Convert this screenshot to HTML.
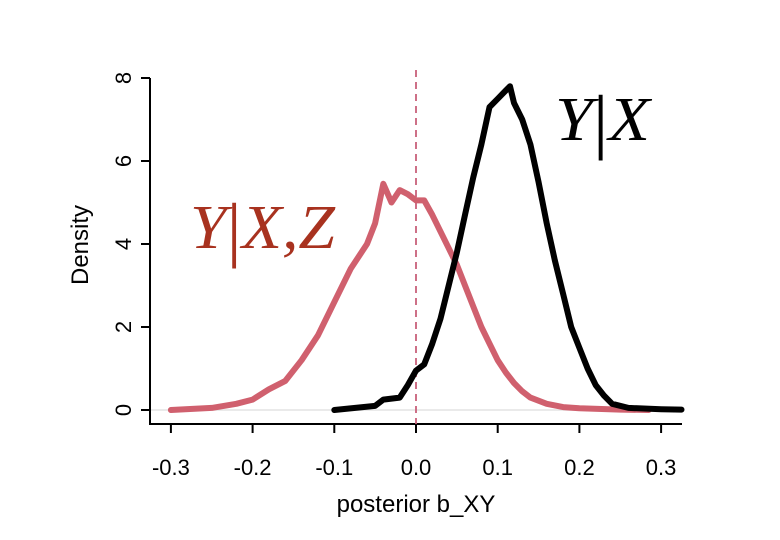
<!DOCTYPE html>
<html><head><meta charset="utf-8"><style>
html,body{margin:0;padding:0;background:#fff;width:780px;height:540px;overflow:hidden}
</style></head><body>
<svg id="chart" width="780" height="540" viewBox="0 0 780 540" xmlns="http://www.w3.org/2000/svg"></svg>
<script>
const xTicks=[-0.3,-0.2,-0.1,0.0,0.1,0.2,0.3];
const xTickLabels=["-0.3","-0.2","-0.1","0.0","0.1","0.2","0.3"];
const yTicks=[0,2,4,6,8];
const yxX=[-0.1,-0.05,-0.04,-0.02,-0.01,0.0,0.01,0.02,0.03,0.04,0.05,0.06,0.07,0.08,0.09,0.1,0.11,0.115,0.12,0.13,0.14,0.15,0.16,0.17,0.18,0.19,0.2,0.21,0.22,0.23,0.24,0.26,0.3,0.325];
const yxD=[0,0.1,0.25,0.3,0.6,0.95,1.1,1.6,2.2,3.0,3.8,4.7,5.6,6.4,7.3,7.5,7.7,7.8,7.4,7.0,6.4,5.5,4.5,3.6,2.8,2.0,1.5,1.0,0.6,0.35,0.15,0.05,0.02,0.01];
const yxzX=[-0.3,-0.25,-0.22,-0.2,-0.18,-0.16,-0.14,-0.12,-0.1,-0.08,-0.06,-0.05,-0.04,-0.03,-0.02,-0.01,0.0,0.01,0.02,0.03,0.04,0.05,0.06,0.07,0.08,0.09,0.1,0.11,0.12,0.13,0.14,0.16,0.18,0.2,0.25,0.285];
const yxzD=[0,0.05,0.15,0.25,0.5,0.7,1.2,1.8,2.6,3.4,4.0,4.5,5.45,5.0,5.3,5.2,5.05,5.05,4.7,4.3,3.9,3.5,3.0,2.5,2.0,1.6,1.2,0.9,0.65,0.45,0.3,0.15,0.07,0.04,0.01,0];
const NS="http://www.w3.org/2000/svg";
const svg=document.getElementById('chart');
const sx=v=>416+v*817;
const sy=v=>410-v*41.5;
const SANS='font-family:"Liberation Sans",sans-serif;';
function mk(t,a,p){const e=document.createElementNS(NS,t);for(const k in a)e.setAttribute(k,a[k]);(p||svg).appendChild(e);return e;}
let e=mk('line',{x1:150,x2:682,y1:sy(0),y2:sy(0),stroke:'#e4e4e4','stroke-width':1.5});


e=mk('path',{d:`M150,${sy(8)} V424 H682`,fill:'none',stroke:'#000','stroke-width':2});


xTicks.forEach((t,i)=>{
 let l=mk('line',{x1:sx(t),x2:sx(t),y1:424,y2:433,stroke:'#000','stroke-width':2});
 
 
 let tx=mk('text',{x:sx(t),y:475,'text-anchor':'middle',style:SANS+'font-size:22px'});
 tx.textContent=xTickLabels[i];
 
 
});
yTicks.forEach(t=>{
 let l=mk('line',{x1:141,x2:150,y1:sy(t),y2:sy(t),stroke:'#000','stroke-width':2});
 
 
 let tx=mk('text',{x:131,y:sy(t),'text-anchor':'middle',style:SANS+'font-size:22px',transform:`rotate(-90 131 ${sy(t)})`});
 tx.textContent=String(t);
 
 
});
e=mk('text',{x:88,y:245,'text-anchor':'middle',style:SANS+'font-size:24px',transform:'rotate(-90 88 245)'});
e.textContent='Density';


e=mk('text',{x:416,y:512,'text-anchor':'middle',style:SANS+'font-size:24px'});
e.textContent='posterior b_XY';


e=mk('line',{x1:sx(0),x2:sx(0),y1:70,y2:424,stroke:'#c8607a','stroke-width':1.8,'stroke-dasharray':'7,5'});


function curve(xs,ds,col){return mk('path',{d:xs.map((x,i)=>(i?'L':'M')+sx(x).toFixed(1)+','+sy(ds[i]).toFixed(1)).join(''),fill:'none',stroke:col,'stroke-width':6,'stroke-linejoin':'round','stroke-linecap':'round'});}
e=curve(yxzX,yxzD,'#d0606e');


e=curve(yxX,yxD,'#000');


const SERIF='font-family:"Liberation Serif",serif;font-size:62px;';
e=mk('text',{x:190,y:248,fill:'#a8321f',style:SERIF,textLength:145,lengthAdjust:'spacingAndGlyphs'});
e.innerHTML='<tspan font-style="italic">Y</tspan><tspan style="font-size:72px" dy="5">|</tspan><tspan font-style="italic" dy="-5">X,Z</tspan>';


e=mk('text',{x:555,y:140,fill:'#000',style:SERIF,textLength:95,lengthAdjust:'spacingAndGlyphs'});
e.innerHTML='<tspan font-style="italic">Y</tspan><tspan style="font-size:72px" dy="5">|</tspan><tspan font-style="italic" dy="-5">X</tspan>';


</script>
</body></html>
